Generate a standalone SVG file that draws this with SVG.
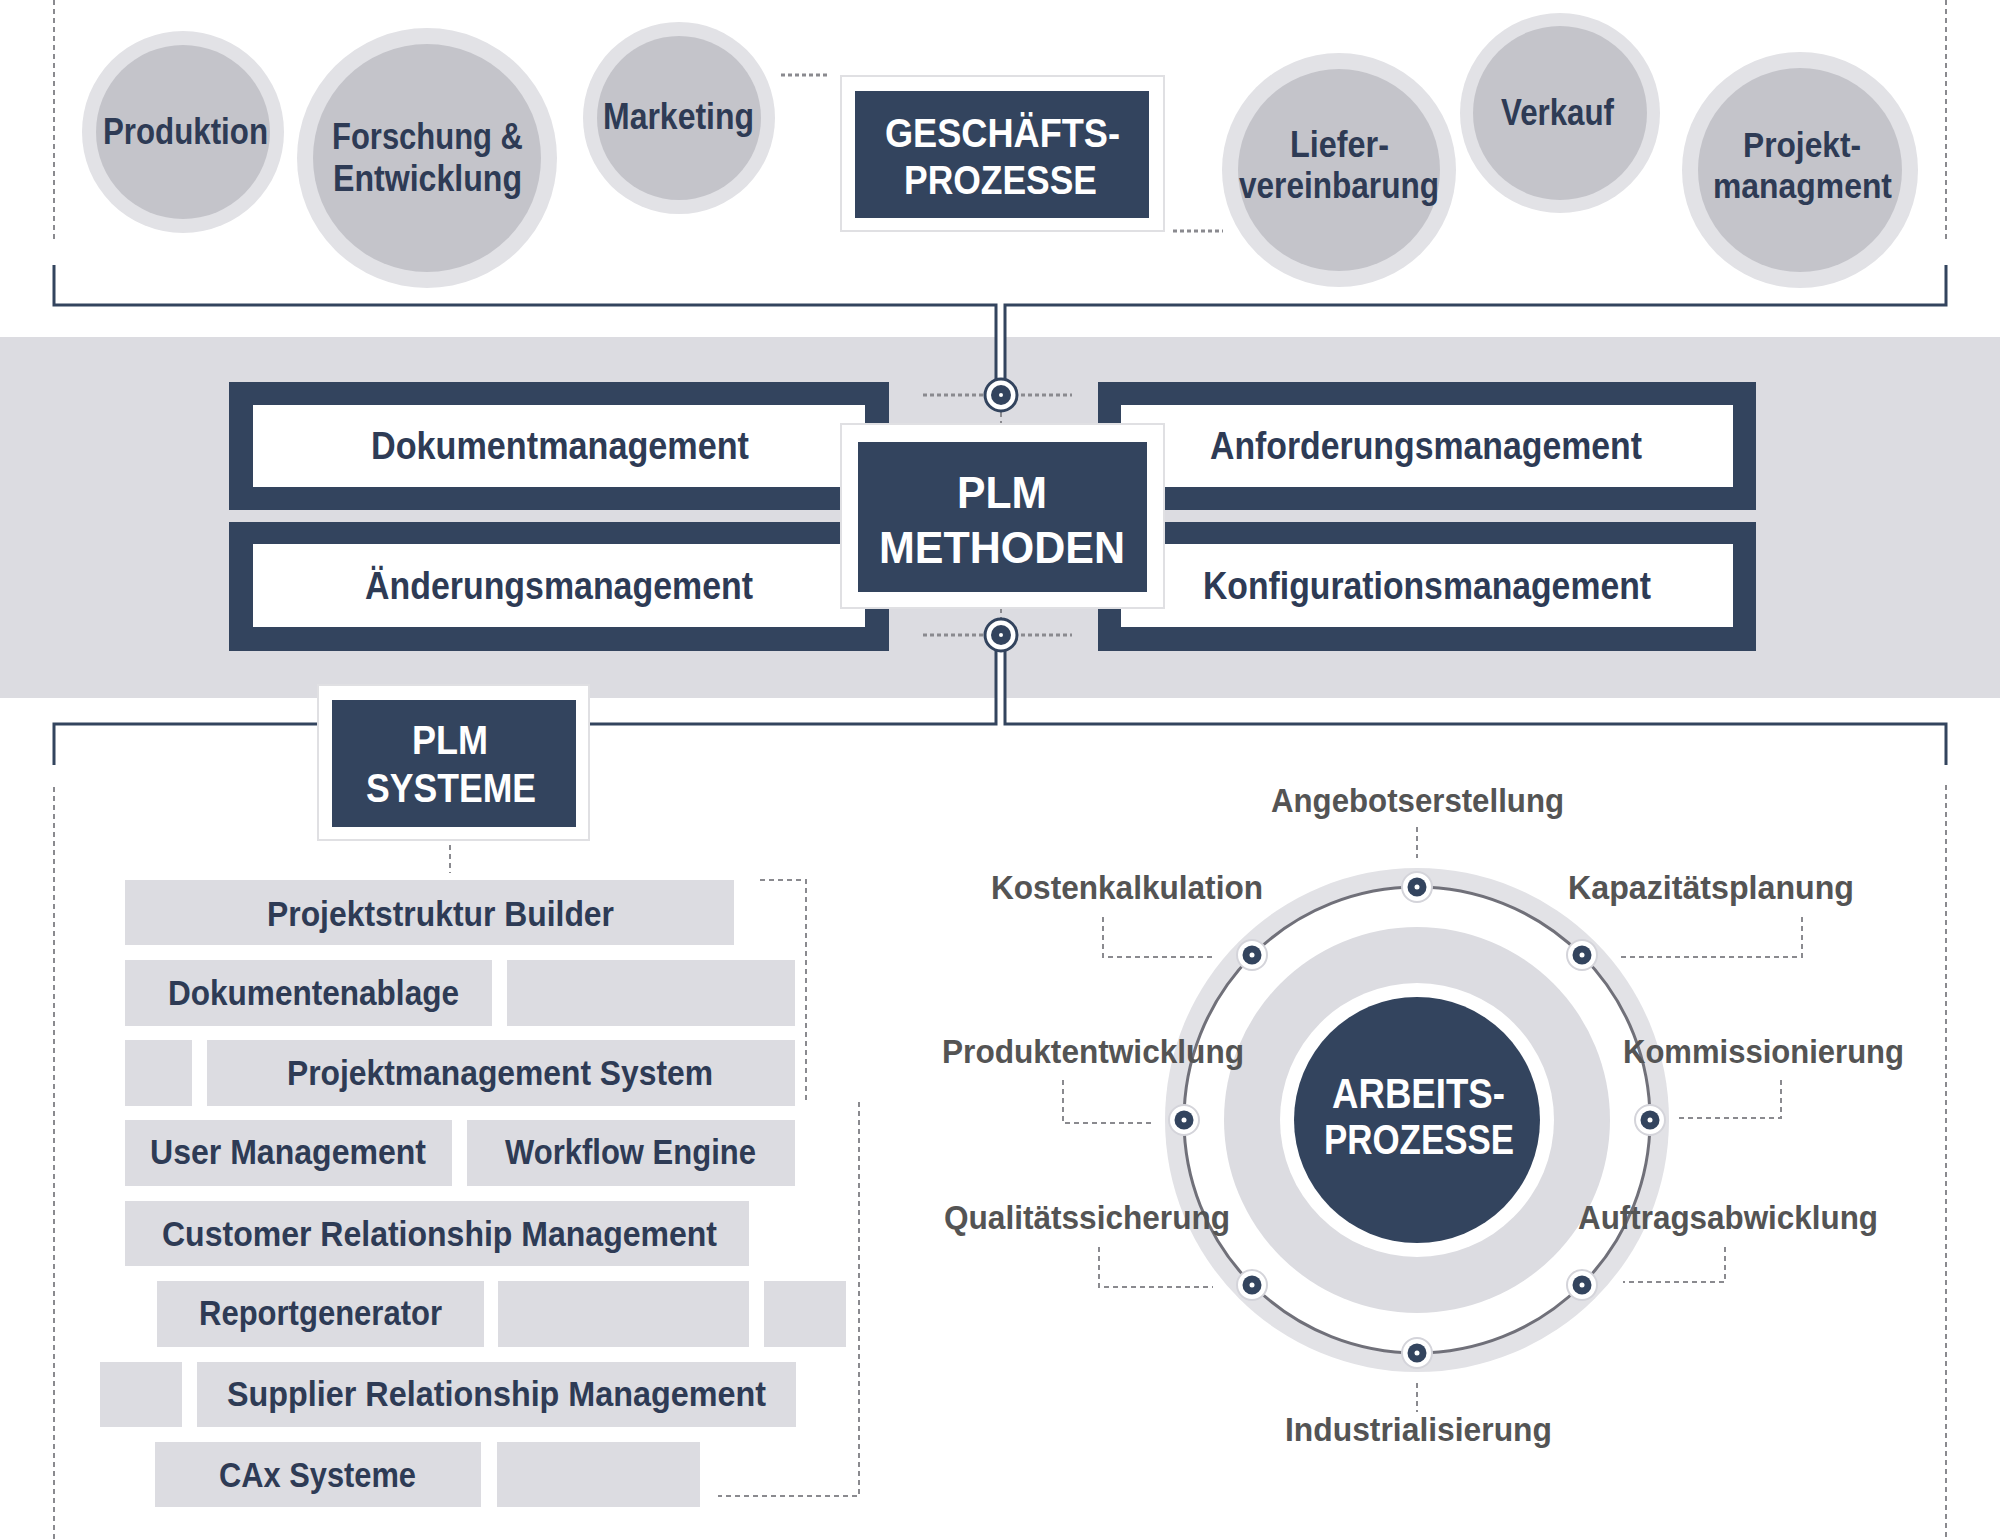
<svg xmlns="http://www.w3.org/2000/svg" width="2000" height="1539" viewBox="0 0 2000 1539">
<defs>
<style>
.t{font-family:"Liberation Sans Narrow","Liberation Sans",Arial,sans-serif;font-weight:bold;}
.navy{fill:#2e3b55;}
.wt{fill:#ffffff;}
.gl{fill:#545454;}
.outer{fill:#e2e2e6;}
.inner{fill:#c4c4ca;}
.dark{fill:#33445e;}
.frame{fill:#ffffff;stroke:#e0e0e3;stroke-width:2;}
.box{fill:#dcdce1;}
.solid{fill:none;stroke:#33445e;stroke-width:3;}
.dash{fill:none;stroke:#8a8a8f;stroke-width:2;stroke-dasharray:5 4;}
.dot{fill:none;stroke:#8a8a8f;stroke-width:3;stroke-dasharray:4 3;}
</style>
<g id="ringnode">
<circle r="15" fill="#ffffff" stroke="#d4d4da" stroke-width="2"/>
<circle r="9.5" fill="#33445e"/>
<circle r="2.5" fill="#ffffff"/>
</g>
<g id="hubnode">
<circle r="16" fill="#ffffff" stroke="#33445e" stroke-width="3"/>
<circle r="10" fill="#33445e"/>
<circle r="2" fill="#ffffff"/>
</g>
</defs>
<rect width="2000" height="1539" fill="#ffffff"/>
<rect id="band" x="0" y="337" width="2000" height="361" fill="#dcdce1"/>

<g id="connectors">
<path class="dash" d="M54,0 V243 M1946,0 V243 M54,787 V1539 M1946,785 V1539"/>
<rect x="996" y="305" width="9" height="75" fill="#ffffff"/>
<rect x="996" y="651" width="9" height="73" fill="#ffffff"/>
<path class="solid" d="M54,265 V305 H996 V380 M1005,380 V305 H1946 V265"/>
<path class="solid" d="M996,651 V724 H54 V765 M1005,651 V724 H1946 V765"/>
<path class="dot" d="M923,395 H983 M1021,395 H1072 M923,635 H983 M1021,635 H1072"/>
<path class="dash" d="M1001,412 V424 M1001,608 V620"/>
<path class="dot" d="M781,75 H829 M1173,231 H1223"/>
<path class="dash" d="M450,845 V873"/>
<path class="dash" d="M760,880 H806 V1100 M859,1102 V1496 H718"/>
<path class="dash" d="M1417,827 V858 M1103,917 V957 H1213 M1802,917 V957 H1621 M1063,1080 V1123 H1154 M1781,1080 V1118 H1678 M1099,1247 V1287 H1213 M1725,1247 V1282 H1623 M1417,1383 V1412"/>
<use href="#hubnode" x="1001" y="395"/>
<use href="#hubnode" x="1001" y="635"/>
</g>

<g id="produktion">
<circle class="outer" cx="183" cy="132" r="101"/><circle class="inner" cx="183" cy="132" r="87"/>
<text class="t navy" x="103" y="144" font-size="36" textLength="165" lengthAdjust="spacingAndGlyphs">Produktion</text>
</g>
<g id="forschung">
<circle class="outer" cx="427" cy="158" r="130"/><circle class="inner" cx="427" cy="158" r="114"/>
<text class="t navy" x="332" y="149" font-size="37" textLength="191" lengthAdjust="spacingAndGlyphs">Forschung &amp;</text>
<text class="t navy" x="333" y="191" font-size="37" textLength="189" lengthAdjust="spacingAndGlyphs">Entwicklung</text>
</g>
<g id="marketing">
<circle class="outer" cx="679" cy="118" r="96"/><circle class="inner" cx="679" cy="118" r="82"/>
<text class="t navy" x="603" y="129" font-size="36" textLength="151" lengthAdjust="spacingAndGlyphs">Marketing</text>
</g>
<g id="geschaeftsprozesse">
<rect class="frame" x="841" y="76" width="323" height="155"/>
<rect class="dark" x="855" y="91" width="294" height="127"/>
<text class="t wt" x="885" y="147" font-size="41" textLength="235" lengthAdjust="spacingAndGlyphs">GESCHÄFTS-</text>
<text class="t wt" x="904" y="194" font-size="41" textLength="193" lengthAdjust="spacingAndGlyphs">PROZESSE</text>
</g>
<g id="liefervereinbarung">
<circle class="outer" cx="1339" cy="170" r="117"/><circle class="inner" cx="1339" cy="170" r="101"/>
<text class="t navy" x="1290" y="157" font-size="36" textLength="99" lengthAdjust="spacingAndGlyphs">Liefer-</text>
<text class="t navy" x="1239" y="198" font-size="36" textLength="200" lengthAdjust="spacingAndGlyphs">vereinbarung</text>
</g>
<g id="verkauf">
<circle class="outer" cx="1560" cy="113" r="100"/><circle class="inner" cx="1560" cy="113" r="87"/>
<text class="t navy" x="1501" y="125" font-size="36" textLength="113" lengthAdjust="spacingAndGlyphs">Verkauf</text>
</g>
<g id="projektmanagment">
<circle class="outer" cx="1800" cy="170" r="118"/><circle class="inner" cx="1800" cy="170" r="102"/>
<text class="t navy" x="1743" y="157" font-size="35" textLength="118" lengthAdjust="spacingAndGlyphs">Projekt-</text>
<text class="t navy" x="1713" y="198" font-size="35" textLength="179" lengthAdjust="spacingAndGlyphs">managment</text>
</g>

<g id="dokumentmanagement">
<rect class="dark" x="229" y="382" width="660" height="128"/>
<rect fill="#ffffff" x="253" y="405" width="612" height="82"/>
<text class="t navy" x="371" y="459" font-size="38" textLength="378" lengthAdjust="spacingAndGlyphs">Dokumentmanagement</text>
</g>
<g id="aenderungsmanagement">
<rect class="dark" x="229" y="522" width="660" height="129"/>
<rect fill="#ffffff" x="253" y="544" width="612" height="83"/>
<text class="t navy" x="365" y="599" font-size="38" textLength="388" lengthAdjust="spacingAndGlyphs">Änderungsmanagement</text>
</g>
<g id="anforderungsmanagement">
<rect class="dark" x="1098" y="382" width="658" height="128"/>
<rect fill="#ffffff" x="1121" y="405" width="612" height="82"/>
<text class="t navy" x="1210" y="459" font-size="38" textLength="432" lengthAdjust="spacingAndGlyphs">Anforderungsmanagement</text>
</g>
<g id="konfigurationsmanagement">
<rect class="dark" x="1098" y="522" width="658" height="129"/>
<rect fill="#ffffff" x="1121" y="544" width="612" height="83"/>
<text class="t navy" x="1203" y="599" font-size="38" textLength="448" lengthAdjust="spacingAndGlyphs">Konfigurationsmanagement</text>
</g>
<g id="plm-methoden">
<rect class="frame" x="841" y="424" width="323" height="184"/>
<rect class="dark" x="858" y="442" width="289" height="150"/>
<text class="t wt" x="957" y="508" font-size="45" textLength="90" lengthAdjust="spacingAndGlyphs">PLM</text>
<text class="t wt" x="879" y="563" font-size="45" textLength="246" lengthAdjust="spacingAndGlyphs">METHODEN</text>
</g>

<g id="plm-systeme">
<rect class="frame" x="318" y="685" width="271" height="155"/>
<rect class="dark" x="332" y="700" width="244" height="127"/>
<text class="t wt" x="412" y="754" font-size="40" textLength="76" lengthAdjust="spacingAndGlyphs">PLM</text>
<text class="t wt" x="366" y="802" font-size="40" textLength="170" lengthAdjust="spacingAndGlyphs">SYSTEME</text>
</g>
<g id="projektstruktur-builder">
<rect class="box" x="125" y="880" width="609" height="65"/>
<text class="t navy" x="267" y="926" font-size="35" textLength="347" lengthAdjust="spacingAndGlyphs">Projektstruktur Builder</text>
</g>
<g id="dokumentenablage">
<rect class="box" x="125" y="960" width="367" height="66"/>
<rect class="box" x="507" y="960" width="288" height="66"/>
<text class="t navy" x="168" y="1005" font-size="35" textLength="291" lengthAdjust="spacingAndGlyphs">Dokumentenablage</text>
</g>
<g id="projektmanagement-system">
<rect class="box" x="125" y="1040" width="67" height="66"/>
<rect class="box" x="207" y="1040" width="588" height="66"/>
<text class="t navy" x="287" y="1085" font-size="35" textLength="426" lengthAdjust="spacingAndGlyphs">Projektmanagement System</text>
</g>
<g id="user-management">
<rect class="box" x="125" y="1120" width="327" height="66"/>
<text class="t navy" x="150" y="1164" font-size="35" textLength="276" lengthAdjust="spacingAndGlyphs">User Management</text>
</g>
<g id="workflow-engine">
<rect class="box" x="467" y="1120" width="328" height="66"/>
<text class="t navy" x="505" y="1164" font-size="35" textLength="251" lengthAdjust="spacingAndGlyphs">Workflow Engine</text>
</g>
<g id="customer-relationship-management">
<rect class="box" x="125" y="1201" width="624" height="65"/>
<text class="t navy" x="162" y="1246" font-size="35" textLength="555" lengthAdjust="spacingAndGlyphs">Customer Relationship Management</text>
</g>
<g id="reportgenerator">
<rect class="box" x="157" y="1281" width="327" height="66"/>
<rect class="box" x="498" y="1281" width="251" height="66"/>
<rect class="box" x="764" y="1281" width="82" height="66"/>
<text class="t navy" x="199" y="1325" font-size="35" textLength="243" lengthAdjust="spacingAndGlyphs">Reportgenerator</text>
</g>
<g id="supplier-relationship-management">
<rect class="box" x="100" y="1362" width="82" height="65"/>
<rect class="box" x="197" y="1362" width="599" height="65"/>
<text class="t navy" x="227" y="1406" font-size="35" textLength="539" lengthAdjust="spacingAndGlyphs">Supplier Relationship Management</text>
</g>
<g id="cax-systeme">
<rect class="box" x="155" y="1442" width="326" height="65"/>
<rect class="box" x="497" y="1442" width="203" height="65"/>
<text class="t navy" x="219" y="1487" font-size="35" textLength="197" lengthAdjust="spacingAndGlyphs">CAx Systeme</text>
</g>

<g id="arbeitsprozesse">
<circle cx="1417" cy="1120" r="252" fill="#e2e2e6"/>
<circle cx="1417" cy="1120" r="233" fill="#ffffff" stroke="#707079" stroke-width="3"/>
<circle cx="1417" cy="1120" r="193" fill="#dcdce1"/>
<circle cx="1417" cy="1120" r="137" fill="#ffffff"/>
<circle cx="1417" cy="1120" r="123" fill="#33445e"/>
<text class="t wt" x="1332" y="1108" font-size="43" textLength="173" lengthAdjust="spacingAndGlyphs">ARBEITS-</text>
<text class="t wt" x="1324" y="1154" font-size="43" textLength="190" lengthAdjust="spacingAndGlyphs">PROZESSE</text>
</g>
<g id="angebotserstellung">
<use href="#ringnode" x="1417" y="887"/>
<text class="t gl" x="1271" y="812" font-size="33" textLength="293" lengthAdjust="spacingAndGlyphs">Angebotserstellung</text>
</g>
<g id="kapazitaetsplanung">
<use href="#ringnode" x="1582" y="955"/>
<text class="t gl" x="1568" y="899" font-size="33" textLength="286" lengthAdjust="spacingAndGlyphs">Kapazitätsplanung</text>
</g>
<g id="kommissionierung">
<use href="#ringnode" x="1650" y="1120"/>
<text class="t gl" x="1623" y="1063" font-size="33" textLength="281" lengthAdjust="spacingAndGlyphs">Kommissionierung</text>
</g>
<g id="auftragsabwicklung">
<use href="#ringnode" x="1582" y="1285"/>
<text class="t gl" x="1578" y="1229" font-size="33" textLength="300" lengthAdjust="spacingAndGlyphs">Auftragsabwicklung</text>
</g>
<g id="industrialisierung">
<use href="#ringnode" x="1417" y="1353"/>
<text class="t gl" x="1285" y="1441" font-size="33" textLength="267" lengthAdjust="spacingAndGlyphs">Industrialisierung</text>
</g>
<g id="qualitaetssicherung">
<use href="#ringnode" x="1252" y="1285"/>
<text class="t gl" x="944" y="1229" font-size="33" textLength="286" lengthAdjust="spacingAndGlyphs">Qualitätssicherung</text>
</g>
<g id="produktentwicklung">
<use href="#ringnode" x="1184" y="1120"/>
<text class="t gl" x="942" y="1063" font-size="33" textLength="302" lengthAdjust="spacingAndGlyphs">Produktentwicklung</text>
</g>
<g id="kostenkalkulation">
<use href="#ringnode" x="1252" y="955"/>
<text class="t gl" x="991" y="899" font-size="33" textLength="272" lengthAdjust="spacingAndGlyphs">Kostenkalkulation</text>
</g>
</svg>
